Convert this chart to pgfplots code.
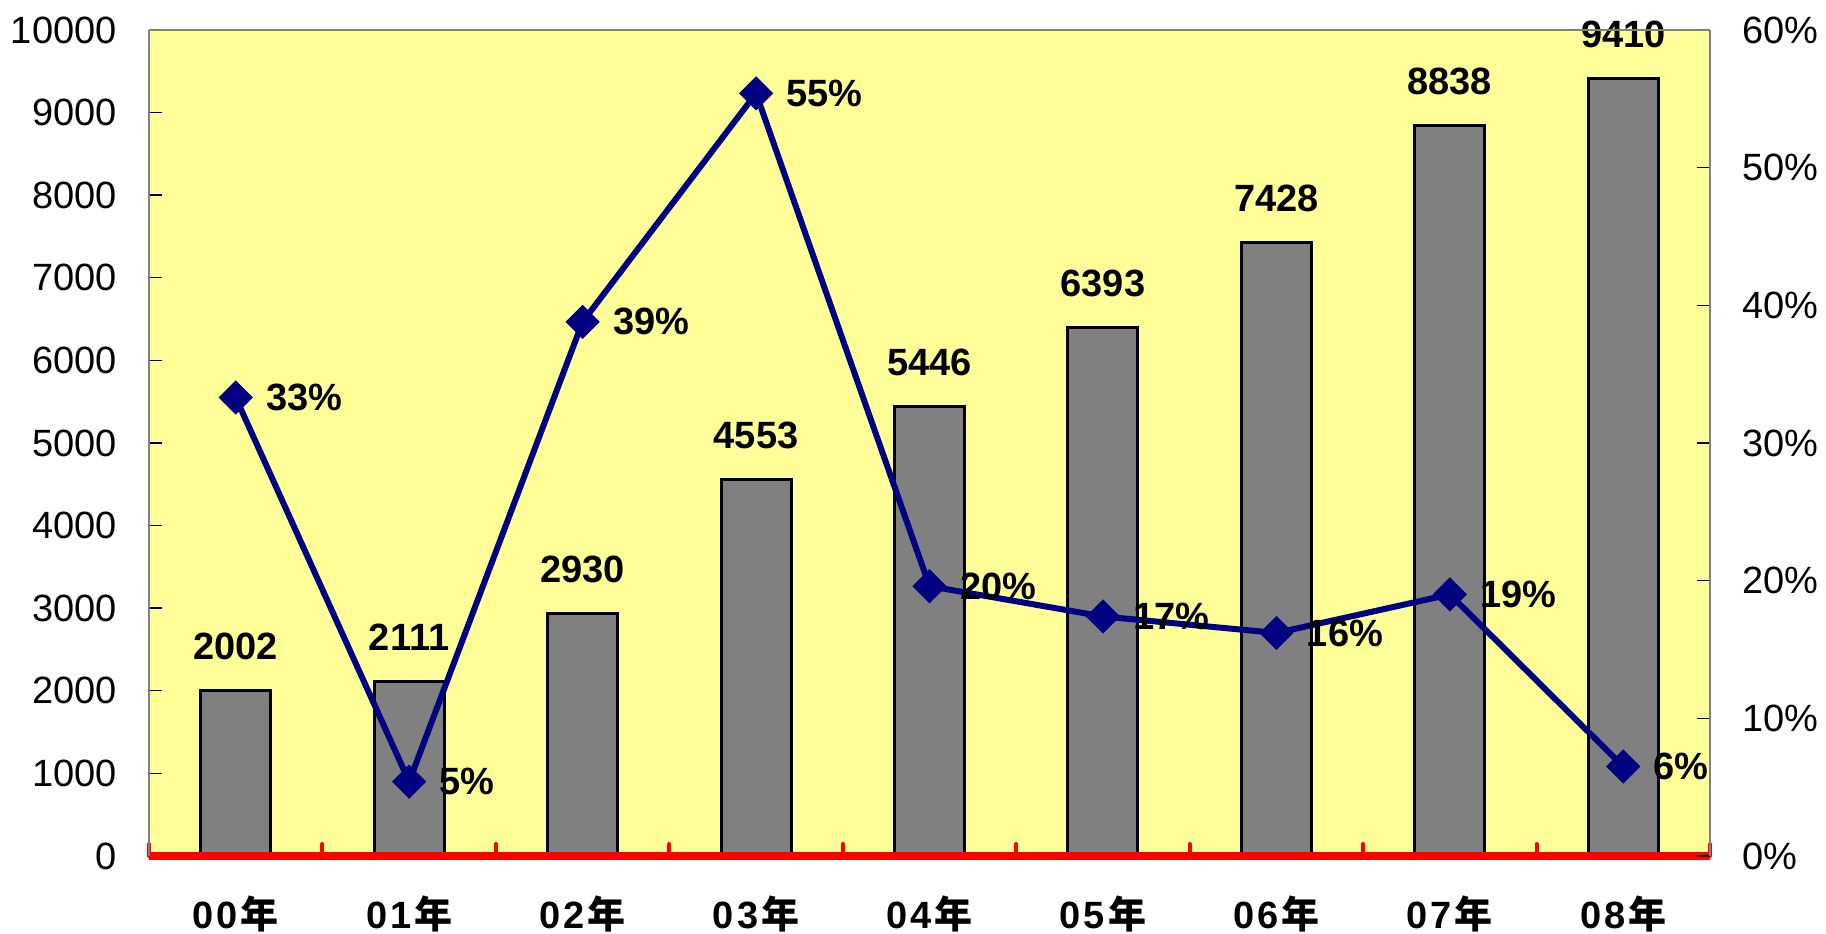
\documentclass[border=0pt]{standalone}
\usepackage{pgfplots}
\pgfplotsset{compat=1.18}
\usepackage{fontspec}
\setmainfont{Liberation Sans}
\newfontfamily\cjk{Noto Sans CJK SC}
\definecolor{bgyellow}{RGB}{255,255,153}
\definecolor{bargray}{RGB}{128,128,128}
\definecolor{navyline}{RGB}{0,0,128}
\newcommand{\lf}{\fontsize{19bp}{23bp}\selectfont}
\newcommand{\yr}[2]{\bfseries #1\kern1.5bp#2\kern1.5bp{\cjk 年}}
\begin{document}
\begin{tikzpicture}
\path[use as bounding box] (0,0) rectangle (913bp,467bp);
\begin{axis}[
  at={(74.5bp,39bp)}, anchor=south west,
  scale only axis, width=780.5bp, height=413bp,
  xmin=-0.5, xmax=8.5, ymin=0, ymax=10000,
  axis x line*=bottom, axis y line*=left,
  axis on top=true,
  axis background/.style={fill=bgyellow},
  x axis line style={red, line width=3.5bp, -},
  y axis line style={bargray, line width=1bp, -},
  xtick={0,...,8},
  xticklabels={\yr{0}{0},\yr{0}{1},\yr{0}{2},\yr{0}{3},\yr{0}{4},\yr{0}{5},\yr{0}{6},\yr{0}{7},\yr{0}{8}},
  major x tick style={draw=none},
  minor xtick={-0.5,0.5,1.5,2.5,3.5,4.5,5.5,6.5,7.5,8.5},
  minor x tick style={red, line width=2bp, line cap=round},
  minor tick length=6bp,
  ytick={0,1000,...,10000},
  scaled y ticks=false,
  y tick style={black, line width=0.7bp},
  major tick length=6.5bp,
  tick align=inside,
  /pgf/number format/assume math mode=true,
  /pgf/number format/1000 sep={},
  /pgf/number format/fixed,
  ticklabel style={font=\lf},
  yticklabel style={anchor=east, inner sep=0pt, xshift=-16bp},
  xticklabel style={anchor=base, inner sep=0pt, yshift=-36bp},
]
\addplot[ybar, bar width=35bp, fill=bargray, draw=black, line width=1.5bp,
  nodes near coords, point meta=explicit symbolic,
  every node near coord/.append style={anchor=base, yshift=15.5bp, inner sep=0pt, font=\lf\bfseries, text=black}]
  coordinates {(0,2002)[2002] (1,2111)[2111] (2,2930)[2930] (3,4553)[4553] (4,5446)[5446]
               (5,6393)[6393] (6,7428)[7428] (7,8838)[8838] (8,9410)[9410]};
\end{axis}
\begin{axis}[
  at={(74.5bp,39bp)}, anchor=south west,
  scale only axis, width=780.5bp, height=413bp,
  xmin=-0.5, xmax=8.5, ymin=0, ymax=60,
  axis x line*=top, axis y line*=right,
  x axis line style={bargray, line width=1bp, -},
  y axis line style={bargray, line width=1bp, -},
  xtick=\empty,
  ytick={0,10,...,60},
  y tick style={black, line width=0.7bp},
  major tick length=6.5bp,
  tick align=inside,
  /pgf/number format/assume math mode=true,
  yticklabel={\pgfmathprintnumber{\tick}\%},
  ticklabel style={font=\lf},
  yticklabel style={anchor=west, inner sep=0pt, xshift=16bp},
]
\addplot[navyline, line width=3bp, mark=square*, mark size=5.8bp,
  mark options={rotate=45, line width=0.5bp, fill=navyline},
  nodes near coords, point meta=explicit symbolic,
  every node near coord/.append style={anchor=west, xshift=15bp, inner sep=0pt, font=\lf\bfseries, text=black}]
  coordinates {(0,33.3)[33\%] (1,5.4)[5\%] (2,38.8)[39\%] (3,55.4)[55\%] (4,19.6)[20\%]
               (5,17.4)[17\%] (6,16.2)[16\%] (7,19.0)[19\%] (8,6.5)[6\%]};
\end{axis}
\end{tikzpicture}
\end{document}
